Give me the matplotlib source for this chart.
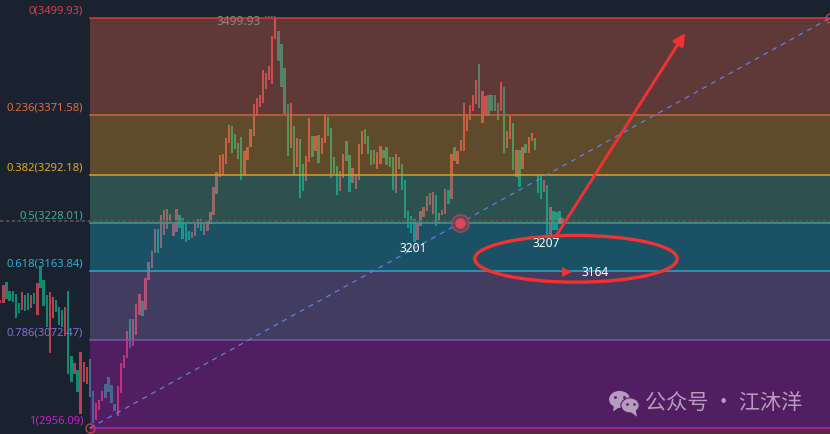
import matplotlib
matplotlib.use('Agg')
import matplotlib.pyplot as plt
from matplotlib.patches import Ellipse, Polygon

# fib levels
fib_ratio  = [0, 0.236, 0.382, 0.5, 0.618, 0.786, 1]
fib_price  = [3499.93, 3371.58, 3292.18, 3228.01, 3163.84, 3072.47, 2956.09]
band_color = ['#ff7149', '#ffad21', '#57c199', '#1bc1df', '#a07bd5', '#d517d9', '#f03578']
line_color = ['#e5343f', '#c8643c', '#d9a01f', '#3f9e85', '#2aa7c8', '#7b55a8', '#b71cb8']
text_color = ['#e03a50', '#e56c3e', '#e5a920', '#3fb093', '#2eb0d2', '#8470d0', '#cc1ed0']

# candles, one row per 10 bars
high = [3126, 3146, 3150, 3138, 3138, 3134, 3122, 3137, 3133, 3135,
        3133, 3135, 3149, 3170, 3153, 3133, 3137, 3130, 3126, 3117,
        3113, 3117, 3138, 3052, 3042, 3033, 3057, 3044, 3037, 3048,
        3005, 2989, 2993, 3005, 3014, 3024, 3013, 2988, 3012, 3042,
        3053, 3085, 3100, 3101, 3121, 3134, 3125, 3155, 3176, 3191,
        3220, 3220, 3239, 3245, 3247, 3240, 3226, 3247, 3239, 3235,
        3228, 3218, 3216, 3227, 3233, 3233, 3228, 3231, 3243, 3276,
        3296, 3318, 3320, 3341, 3358, 3357, 3346, 3334, 3342, 3324,
        3329, 3353, 3386, 3394, 3398, 3431, 3427, 3436, 3476, 3500,
        3482, 3466, 3434, 3386, 3387, 3357, 3341, 3340, 3306, 3317,
        3367, 3344, 3344, 3345, 3341, 3371, 3369, 3354, 3316, 3304,
        3297, 3320, 3337, 3318, 3301, 3293, 3333, 3350, 3353, 3344,
        3325, 3325, 3322, 3330, 3325, 3329, 3316, 3316, 3320, 3316,
        3306, 3285, 3244, 3237, 3233, 3228, 3244, 3249, 3264, 3268,
        3269, 3265, 3241, 3245, 3273, 3272, 3320, 3329, 3324, 3338,
        3387, 3373, 3385, 3398, 3418, 3439, 3403, 3397, 3398, 3398,
        3398, 3387, 3415, 3409, 3350, 3370, 3361, 3325, 3325, 3329,
        3333, 3342, 3348, 3341, 3292, 3291, 3285, 3279, 3249, 3244,
        3243, 3244]
low = [3122, 3122, 3127, 3125, 3123, 3102, 3109, 3113, 3111, 3113,
       3115, 3121, 3106, 3142, 3118, 3090, 3056, 3102, 3110, 3093,
       3090, 3080, 3028, 3017, 3028, 3004, 2974, 3017, 3015, 2997,
       2963, 2967, 2980, 2992, 2996, 3004, 2989, 2978, 2972, 3003,
       3036, 3049, 3062, 3065, 3080, 3106, 3105, 3113, 3153, 3168,
       3188, 3188, 3195, 3212, 3220, 3228, 3211, 3216, 3222, 3207,
       3203, 3206, 3208, 3211, 3222, 3218, 3212, 3218, 3227, 3239,
       3267, 3289, 3292, 3306, 3334, 3321, 3326, 3313, 3285, 3292,
       3312, 3329, 3344, 3370, 3382, 3387, 3406, 3418, 3413, 3472,
       3443, 3409, 3373, 3317, 3328, 3292, 3302, 3261, 3271, 3284,
       3309, 3316, 3324, 3308, 3320, 3334, 3344, 3288, 3293, 3265,
       3271, 3288, 3310, 3269, 3281, 3273, 3285, 3320, 3333, 3320,
       3305, 3306, 3300, 3306, 3314, 3305, 3302, 3272, 3268, 3300,
       3272, 3235, 3222, 3215, 3203, 3206, 3224, 3236, 3244, 3252,
       3240, 3224, 3228, 3239, 3240, 3253, 3260, 3310, 3306, 3324,
       3324, 3350, 3365, 3377, 3386, 3381, 3361, 3370, 3370, 3377,
       3377, 3365, 3377, 3321, 3328, 3340, 3298, 3289, 3276, 3300,
       3321, 3321, 3337, 3325, 3268, 3260, 3269, 3212, 3212, 3219,
       3219, 3226]
up = [1, 1, 0, 0, 0, 0, 0, 1, 0, 0,
      1, 0, 1, 0, 0, 0, 1, 1, 0, 0,
      0, 1, 0, 0, 1, 0, 1, 1, 1, 0,
      0, 1, 1, 1, 0, 0, 0, 0, 1, 1,
      1, 1, 0, 1, 1, 1, 0, 1, 1, 1,
      1, 0, 1, 1, 1, 1, 1, 1, 0, 0,
      0, 0, 1, 1, 1, 0, 1, 1, 1, 1,
      1, 1, 1, 1, 1, 0, 0, 0, 0, 1,
      1, 1, 1, 1, 1, 1, 1, 1, 1, 1,
      0, 0, 0, 0, 1, 0, 1, 0, 0, 1,
      1, 0, 1, 0, 1, 1, 0, 0, 0, 0,
      1, 1, 0, 0, 1, 1, 1, 1, 0, 0,
      0, 0, 1, 1, 0, 0, 0, 0, 1, 0,
      0, 0, 0, 0, 0, 1, 1, 1, 1, 1,
      1, 0, 1, 1, 1, 0, 1, 0, 1, 1,
      1, 1, 1, 1, 1, 0, 1, 1, 0, 0,
      0, 0, 1, 0, 1, 1, 0, 1, 0, 1,
      0, 1, 1, 0, 0, 0, 1, 0, 1, 0,
      0, 0]

BG = '#1a2230'
X_MAX = 268.6      # chart width in bars
Y_TOP = 3525.1
Y_BOT = 2948.1
START = 29.1       # bar where the fib tool is anchored

fig = plt.figure(figsize=(8.3, 4.35), dpi=100, facecolor=BG)
ax = fig.add_axes([0, 0, 1, 1])
ax.set_facecolor(BG)
ax.set_xlim(0, X_MAX)
ax.set_ylim(Y_BOT, Y_TOP)
ax.axis('off')

# ---- candles ----
bar_x = [i + 0.1 for i in range(len(high))]
bar_h = [h - l for h, l in zip(high, low)]
bar_c = ['#b2434f' if u else '#0f8a72' for u in up]
ax.bar(bar_x, bar_h, bottom=low, width=0.75, color=bar_c, linewidth=0, antialiased=True, zorder=2)

# ---- fib bands ----
edges = fib_price + [Y_BOT]
for i in range(len(fib_price)):
    ax.fill_between([START, X_MAX], edges[i + 1], edges[i], color=band_color[i],
                    alpha=0.3, linewidth=0, zorder=3)
    ax.plot([START, X_MAX], [fib_price[i]] * 2, color=line_color[i], lw=1.1, zorder=4)
    ax.text(26.9, fib_price[i] + 3.2, f'{fib_ratio[i]:g}({fib_price[i]:.2f})', color=text_color[i],
            fontsize=8.1, family='Noto Sans', ha='right', va='bottom', zorder=6)

# last price dotted line
ax.plot([0, X_MAX], [3231, 3231], color='#6d4a5a', lw=1.2, ls=(0, (2, 1.5)), zorder=4)

# diagonal of the fib tool
ax.plot([START, X_MAX], [fib_price[-1], fib_price[0]], color='#5f80e0', lw=0.9,
        ls=(0, (4, 4)), zorder=5)
ax.plot([START], [fib_price[-1]], 'o', ms=6.5, mfc='none', mec='#c0404c', mew=1, zorder=6)
ax.plot([X_MAX], [fib_price[0]], 'o', ms=6.5, mfc='none', mec='#c0404c', mew=1, zorder=6, clip_on=False)
ax.plot([148.9], [3228], 'o', ms=12.5, mfc='#6a4a5c', mec='#a8485a', mew=1.2, alpha=0.8, zorder=6)
ax.plot([148.9], [3228], 'o', ms=7.5, color='#e0455c', mew=0, zorder=7)
ax.plot([181.6], [3232], 'o', ms=4.5, color='#d98080', alpha=0.55, mew=0, zorder=6)

# high price tag
ax.text(70.2, 3496, '3499.93', color='#8e8482', fontsize=8.6, family='Noto Sans',
        ha='left', va='center', zorder=6)
ax.plot([85.8, 89.2], [3502, 3502], color='#8e8482', lw=0.8, ls=':', zorder=6)

# ---- hand drawn marks ----
RED = '#f03232'
ax.add_patch(Ellipse((186.4, 3180.5), 65.5, 62, fc='none', ec=RED, lw=2.4, zorder=8))
ax.annotate('', xy=(221.7, 3480), xytext=(180, 3211), zorder=8,
            arrowprops=dict(arrowstyle='-|>,head_length=0.5,head_width=0.25', color=RED,
                            lw=2.1, mutation_scale=14, shrinkA=0, shrinkB=0))
ax.plot([183.5], [3163], '>', ms=7.5, color=RED, mew=0, zorder=8)

for x, y, s in [(133.7, 3195, '3201'), (176.8, 3202, '3207'), (192.6, 3163, '3164')]:
    ax.text(x, y, s, color='white', fontsize=8.6, family='Noto Sans', ha='center',
            va='center', zorder=9)

# ---- watermark ----
WM = '#b79cc0'
EYE = '#5a2a6c'
ax.add_patch(Ellipse((200.5, 2994), 6.8, 22.5, fc=WM, ec='none', zorder=8))
ax.add_patch(Polygon([(198.7, 2987), (198.4, 2978), (200.6, 2984)], fc=WM, ec='none', zorder=8))
ax.add_patch(Ellipse((203.9, 2986), 5.9, 20, fc=WM, ec='#521f63', lw=0.8, zorder=9))
ax.add_patch(Polygon([(203.9, 2978), (206.1, 2971), (205.8, 2979)], fc=WM, ec='none', zorder=9))
ax.plot([199, 201.9], [2997, 2997], 'o', ms=2.2, color=EYE, mew=0, zorder=9)
ax.plot([202.9, 205.2], [2988, 2988], 'o', ms=2, color=EYE, mew=0, zorder=10)
ax.text(208.7, 2991, '公众号 · 江沐洋', color=WM, fontsize=15.2,
        family=['Noto Sans CJK SC', 'DejaVu Sans'], ha='left', va='center', zorder=8)

fig.savefig('out.png', dpi=100, facecolor=BG)
